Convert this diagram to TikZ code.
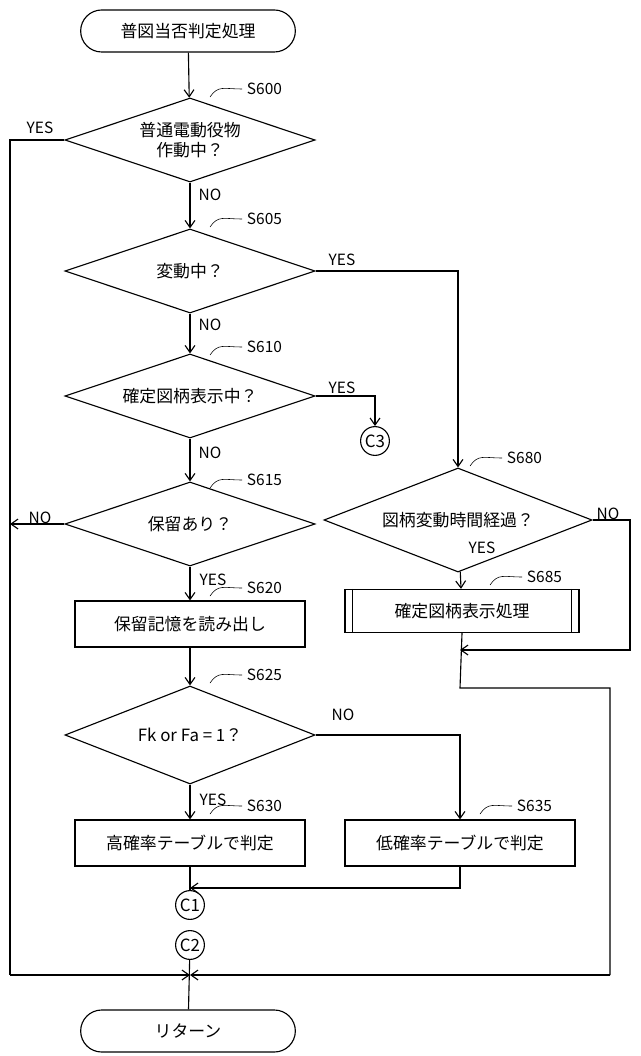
\documentclass[tikz,border=0pt]{standalone}
\usepackage{fontspec}
\setmainfont{Noto Sans CJK JP}
\usetikzlibrary{shapes.geometric,shapes.misc,arrows.meta}
\begin{document}
\begin{tikzpicture}[x=0.025cm,y=-0.025cm,font=\fontsize{12}{14}\selectfont]
		\tikzset{term/.style={rounded rectangle, draw=black, thick, minimum width=5.6cm, minimum height=1.05cm},
			dec/.style={diamond, draw=black, thick, inner sep=0pt, aspect=3.2, align=center, minimum width=6.25cm, minimum height=2.1cm},
			proc/.style={rectangle, draw=black, thick, minimum width=5.75cm, minimum height=1.15cm},
			con/.style={circle, draw=black, thick, inner sep=0pt, minimum size=0.72cm},
			ln/.style={thick, -{Straight Barb[length=5pt,width=7pt]}},
			lb/.style={font=\fontsize{11}{13}\selectfont}};
		\useasboundingbox (0,0) rectangle (640,1056);
		\node[term] (st) at (188,31) {普図当否判定処理};
		\node[dec] (s600) at (190,140) {普通電動役物\\作動中？};
		\node[dec] (s605) at (190,271) {変動中？};
		\node[dec] (s610) at (190,396) {確定図柄表示中？};
		\node[dec] (s615) at (190,524) {保留あり？};
		\node[proc] (s620) at (190,624) {保留記憶を読み出し};
		\node[dec, minimum height=2.45cm] (s625) at (190,735) {Fk or Fa = 1？};
		\node[proc] (s630) at (190,843) {高確率テーブルで判定};
		\node[proc] (s635) at (460,843) {低確率テーブルで判定};
		\node[con] (c1) at (190,905) {C1};
		\node[con] (c2) at (190,945) {C2};
		\node[con] (c3) at (375,441) {C3};
		\node[dec, aspect=2.3, minimum width=6.7cm, minimum height=2.6cm] (s680) at (458,520) {図柄変動時間経過？};
		\node[proc, minimum width=5.85cm, minimum height=1.08cm] (s685) at (462,611) {確定図柄表示処理};
		\node[term] (rt) at (188,1031) {リターン};
		\draw[thick] ([xshift=0.2cm]s685.north west) -- ([xshift=0.2cm]s685.south west);
		\draw[thick] ([xshift=-0.2cm]s685.north east) -- ([xshift=-0.2cm]s685.south east);
		\coordinate (jl) at (190,975);
		\coordinate (jm) at (190,888);
		\coordinate (jr) at (460,650);

		\draw[ln] (st) -- (s600);
		\draw[ln] (s600) -- (s605);
		\draw[ln] (s605) -- (s610);
		\draw[ln] (s610) -- (s615);
		\draw[ln] (s615) -- (s620);
		\draw[ln] (s620) -- (s625);
		\draw[ln] (s625) -- (s630);
		\draw[ln] (s625.east) -| (s635.north);
		\draw[thick] (s630) -- (c1);
		\draw[ln] (s635.south) |- (jm);
		\draw[thick] (c2) -- (rt);
		\draw[ln] (s605.east) -| (s680.north);
		\draw[ln] (s610.east) -| (c3.north);
		\draw[ln] (s680) -- (s685);
		\draw[ln] (s680.east) -| (630,650) -- (jr);
		\draw[thick] (s685.south) -- (460,688) -| (610,975);
		\draw[ln] (610,975) -- (jl);
		\draw[thick] (s600.west) -| (10,975);
		\draw[ln] (10,975) -- (jl);
		\draw[ln] (s615.west) -- (10,524);

		\node[lb] at (40,128) {YES};
		\node[lb] at (210,195) {NO};
		\node[lb] at (342,260) {YES};
		\node[lb] at (210,325) {NO};
		\node[lb] at (342,388) {YES};
		\node[lb] at (210,453) {NO};
		\node[lb] at (40,518) {NO};
		\node[lb] at (213,580) {YES};
		\node[lb] at (343,715) {NO};
		\node[lb] at (213,800) {YES};
		\node[lb] at (608,514) {NO};
		\node[lb] at (482,548) {YES};

		\foreach \x/\y/\t in {210/97/S600, 210/227/S605, 210/355/S610, 210/488/S615, 210/596/S620, 210/683/S625, 210/814/S630, 470/466/S680, 490/585/S685, 480/814/S635} {
			\draw (\x,\y) .. controls (\x+8,\y-12) and (\x+14,\y-8) .. (\x+32,\y-8);
			\node[lb, anchor=west] at (\x+32,\y-8) {\t};
		}
	\end{tikzpicture}
\end{document}
